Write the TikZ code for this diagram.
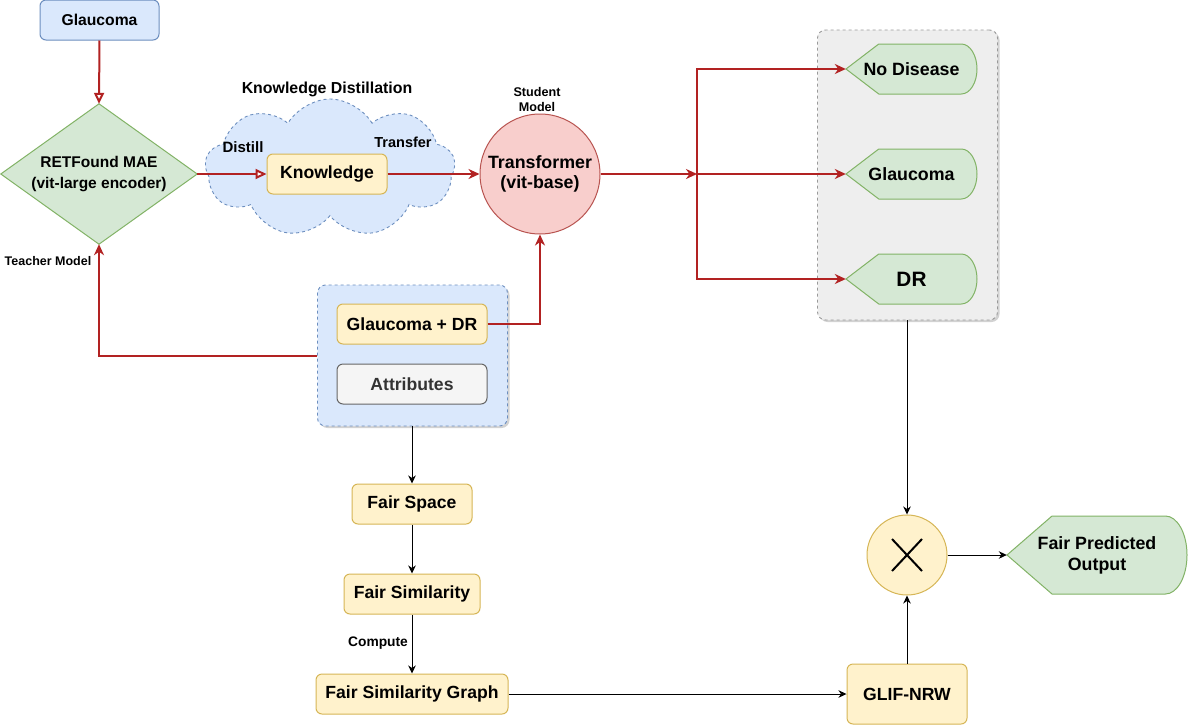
\documentclass[tikz,border=0pt]{standalone}
\usepackage{fontspec}
\setmainfont{Liberation Sans}
\usetikzlibrary{arrows.meta,shapes.symbols,shadows,calc}
\definecolor{blueF}{HTML}{DAE8FC}
\definecolor{blueD}{HTML}{6C8EBF}
\definecolor{greenF}{HTML}{D5E8D4}
\definecolor{greenD}{HTML}{82B366}
\definecolor{yelF}{HTML}{FFF2CC}
\definecolor{yelD}{HTML}{D6B656}
\definecolor{redF}{HTML}{F8CECC}
\definecolor{redD}{HTML}{B85450}
\definecolor{grayF}{HTML}{F5F5F5}
\definecolor{grayD}{HTML}{666666}
\definecolor{grpF}{HTML}{EEEEEE}
\definecolor{grpD}{HTML}{999999}
\definecolor{arrR}{HTML}{B22222}
\definecolor{txtG}{HTML}{333333}
\newcommand\fs[1]{\fontsize{#1}{#1}\selectfont\bfseries}
\newcommand\dispbox[5]{%
 \pgfmathsetmacro\dxa{#2+0.25*(#4-#2)}%
 \pgfmathsetmacro\rx{0.12*(#4-#2)}%
 \pgfmathsetmacro\cxx{#4-\rx}%
 \pgfmathsetmacro\cyy{(#3+#5)/2}%
 \pgfmathsetmacro\kx{\cxx+0.552*\rx}%
 \pgfmathsetmacro\ky{0.552*(#5-#3)/2}%
 \pgfmathsetmacro\ya{\cyy-\ky}%
 \pgfmathsetmacro\yb{\cyy+\ky}%
 \draw[greenst] (#2,\cyy) -- (\dxa,#3) -- (\cxx,#3) .. controls (\kx,#3) and (#4,\ya) .. (#4,\cyy) .. controls (#4,\yb) and (\kx,#5) .. (\cxx,#5) -- (\dxa,#5) -- cycle;
 \node (#1) [inner sep=0, minimum width={#4-#2}, minimum height={#5-#3}] at ({(#2+#4)/2},\cyy) {};
}
\tikzset{
 bx/.style={rounded corners=6pt, inner sep=0pt, align=center, font=\fs{17.6}, line width=1pt},
 bluest/.style={bx, draw=blueD, fill=blueF},
 yelst/.style={bx, draw=yelD, fill=yelF},
 grayst/.style={bx, draw=grayD, fill=grayF, text=txtG},
 greenst/.style={draw=greenD, fill=greenF, line width=1pt},
 grp/.style={draw, dashed, line width=0.9pt, rounded corners=8pt, drop shadow={opacity=0.35, shadow xshift=2pt, shadow yshift=-2pt}},
 redarr/.style={draw=arrR, line width=2pt, -{Stealth[length=11pt,width=10pt,inset=3.5pt]}},
 redopen/.style={draw=arrR, line width=2pt, -{Triangle[open,length=11pt,width=10pt,fill=white]}},
 blkarr/.style={draw=black, line width=1pt, -{Stealth[length=8pt,width=7.5pt,inset=2.5pt]}},
 lbl/.style={inner sep=0pt, align=center},
}
\begin{document}
\begin{tikzpicture}[x=1pt,y=-1pt]
\useasboundingbox[fill=white] (0,0) rectangle (1188,726);
% groups
\node (ggrp) [grp, draw=grpD, fill=grpF, minimum width=180pt, minimum height=290pt] at (907.5,175) {};
\node (agrp) [grp, draw=blueD, fill=blueF, minimum width=190pt, minimum height=141pt] at (412.5,355.5) {};
% cloud
\node (cld) [cloud, cloud puffs=9, cloud puff arc=120, aspect=2, draw=blueD, dashed, line width=0.9pt, fill=blueF, minimum width=250pt, minimum height=138pt, inner sep=0pt] at (330,168) {};
\node (kdl) [lbl, font=\fs{15.9}] at (327,89) {Knowledge Distillation};
\node (dsl) [lbl, font=\fs{15}] at (243,147) {Distill};
\node (trl) [lbl, font=\fs{14.5}] at (403,142) {Transfer};
% nodes
\node (g0) [bluest, font=\fs{15.7}, minimum width=119pt, minimum height=40pt] at (99.5,20) {Glaucoma};
\node (dia) [lbl, minimum width=196pt, minimum height=140pt] at (99,174) {};
\draw[greenst] (dia.north) -- (dia.east) -- (dia.south) -- (dia.west) -- cycle;
\node (diat) [lbl, font={\fontsize{15.5}{21}\selectfont\bfseries}] at (99,174) {RETFound MAE\\(vit-large encoder)};
\node (tml) [lbl, font=\fs{12.5}] at (48,261) {Teacher Model};
\node (know) [yelst, minimum width=120pt, minimum height=40pt] at (327,174) {Knowledge};
\node (tr) [circle, draw=redD, fill=redF, line width=1pt, minimum size=120pt, inner sep=0pt, align=center, font={\fontsize{17.8}{20}\selectfont\bfseries}] at (540,174) {Transformer\\(vit-base)};
\node (sml) [lbl, font={\fontsize{12.6}{15}\selectfont\bfseries}] at (537,99) {Student\\Model};
\coordinate (split) at (697,174);
\dispbox{nd}{846}{44}{977}{94}
\dispbox{gl}{846}{149}{977}{199}
\dispbox{dr}{846}{254}{977}{304}
\node [lbl, font=\fs{17.8}] at (nd) {No Disease};
\node [lbl, font=\fs{17.8}] at (gl) {Glaucoma};
\node [lbl, font=\fs{20.8}] at (dr) {DR};
\node (gdr) [yelst, minimum width=150pt, minimum height=40pt] at (412,324) {Glaucoma + DR};
\node (attr) [grayst, minimum width=150pt, minimum height=40pt] at (412,384) {Attributes};
\node (fsp) [yelst, minimum width=120pt, minimum height=40pt] at (412,504) {Fair Space};
\node (fsim) [yelst, minimum width=136pt, minimum height=40pt] at (412,594) {Fair Similarity};
\node (cpl) [lbl, font=\fs{13.8}] at (378,643) {Compute};
\node (fsg) [yelst, minimum width=192pt, minimum height=40pt] at (412,694) {Fair Similarity Graph};
\node (glif) [yelst, minimum width=120pt, minimum height=60pt] at (907,694) {GLIF-NRW};
\node (mul) [circle, draw=yelD, fill=yelF, line width=1pt, minimum size=80pt, inner sep=0pt] at (907,555) {};
\draw[line width=2pt] ($(mul)+(-15,-16)$) -- ($(mul)+(15,16)$) ($(mul)+(15,-16)$) -- ($(mul)+(-15,16)$);
\dispbox{fpo}{1007}{516}{1187}{594}
\node [lbl, font={\fontsize{17.8}{21}\selectfont\bfseries}] at (fpo) {Fair Predicted\\Output};
% connectors
\draw[redopen] (g0.south) -- (dia.north);
\draw[redopen] (dia.east) -- (know.west);
\draw[redarr] (know.east) -- (tr.west);
\draw[redarr] (tr.east) -- (split);
\draw[redarr] (split) |- (nd.west);
\draw[redarr] (split) -- (gl.west);
\draw[redarr] (split) |- (dr.west);
\draw[redarr] (agrp.west) -| (dia.south);
\draw[redarr] (gdr.east) -| (tr.south);
\draw[blkarr] (agrp.south -| fsp.north) -- (fsp.north);
\draw[blkarr] (fsp.south) -- (fsim.north);
\draw[blkarr] (fsim.south) -- (fsg.north);
\draw[blkarr] (fsg.east) -- (glif.west);
\draw[blkarr] (glif.north) -- (mul.south);
\draw[blkarr] (ggrp.south -| mul.north) -- (mul.north);
\draw[blkarr] (mul.east) -- (fpo.west);
\end{tikzpicture}
\end{document}
